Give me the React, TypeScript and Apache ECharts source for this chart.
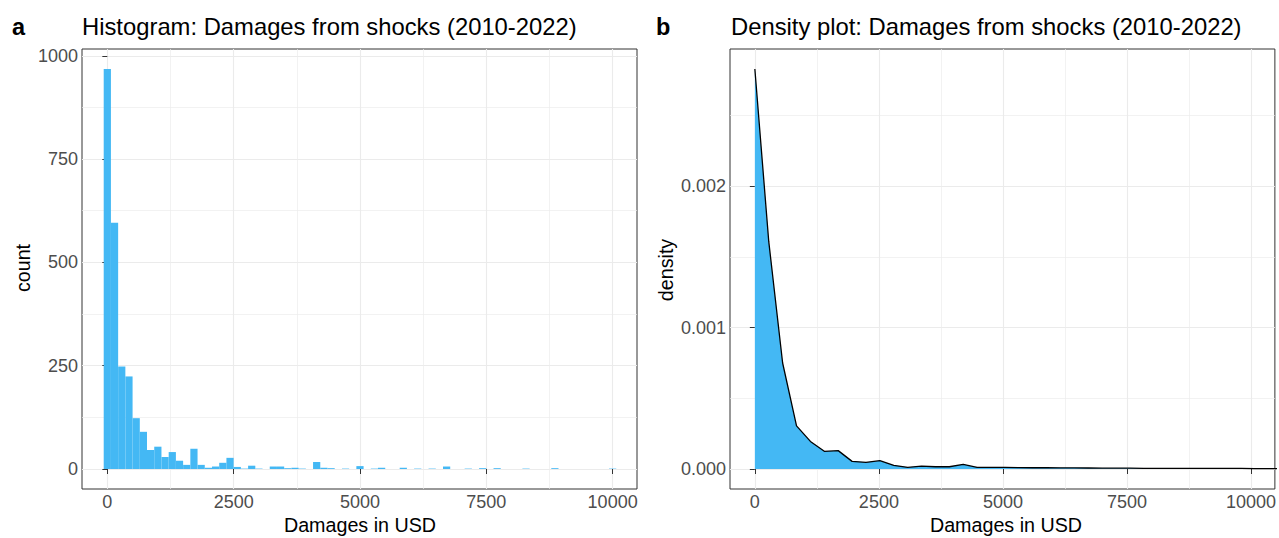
import React, { useEffect, useRef } from "react";
import * as echarts from "echarts";

// Histogram: 71 bins of equal width, the first centred on 0 and the last on 10000
const BIN_WIDTH = 10000 / 70;
const histCounts = [
  968, 596, 248, 224, 123, 90, 46, 54, 29, 41,
  20, 10, 49, 10, 3, 6, 15, 27, 5, 1,
  8, 1, 0, 6, 6, 2, 3, 1, 0, 17,
  3, 2, 0, 1, 0, 7, 0, 1, 3, 0,
  0, 3, 0, 1, 0, 1, 0, 6, 0, 0,
  1, 0, 2, 0, 2, 0, 0, 0, 1, 0,
  0, 0, 2, 0, 0, 0, 0, 0, 0, 0,
  1,
];

// Kernel density estimate, evaluated every 280 USD starting at 0
const DENSITY_STEP = 280;
const densityValues = [
  0.00283, 0.00161, 0.00075, 0.000305, 0.000195, 0.000125, 0.00013, 0.000054,
  0.000047, 0.000059, 0.000026, 0.000012, 0.000021, 0.000016, 0.000016, 0.000032,
  0.000012, 0.000011, 0.000011, 0.00001, 0.000009, 0.000009, 0.000008, 0.000008,
  0.000007, 0.000006, 0.000006, 0.000006, 0.000005, 0.000005, 0.000005, 0.000005,
  0.000004, 0.000004, 0.000004, 0.000004, 0.000003, 0.000003, 0.000003,
];

const xMajorTicks = [0, 2500, 5000, 7500, 10000];
const xMinorTicks = [1250, 3750, 6250, 8750];
const countTicks = [0, 250, 500, 750, 1000];
const countMinorTicks = [125, 375, 625, 875];
const densityTicks = [0, 0.001, 0.002];
const densityMinorTicks = [0.0005, 0.0015, 0.0025];

const FILL = "#44B8F4";
const FONT = "Liberation Sans, Arial, sans-serif";
const X_MIN = -501;
const X_MAX = 10482;

function majorAxis(
  kind: "x" | "y",
  grid: number,
  min: number,
  max: number,
  ticks: number[],
  fmt: (v: number) => string
) {
  return {
    type: "value",
    gridIndex: grid,
    position: kind === "x" ? "bottom" : "left",
    min,
    max,
    axisLine: { show: false },
    axisTick: {
      show: true,
      length: 5,
      customValues: ticks,
      lineStyle: { color: "#333333", width: 1 },
    },
    axisLabel: {
      customValues: ticks,
      formatter: fmt,
      textStyle: { fontSize: 18 },
      color: "#4D4D4D",
      fontFamily: FONT,
      fontSize: 18,
      margin: 4,
    },
    splitLine: { show: true, lineStyle: { color: "#EBEBEB", width: 1.1 } },
  };
}

function minorAxis(kind: "x" | "y", grid: number, min: number, max: number, ticks: number[]) {
  return {
    type: "value",
    gridIndex: grid,
    position: kind === "x" ? "bottom" : "left",
    min,
    max,
    axisLine: { show: false },
    axisTick: { show: false, customValues: ticks },
    axisLabel: { show: false, customValues: ticks },
    splitLine: { show: true, lineStyle: { color: "#EDEDED", width: 0.7 } },
  };
}

export default function App() {
  const ref = useRef<HTMLDivElement>(null);

  useEffect(() => {
    if (!ref.current) return;
    const chart = echarts.init(ref.current, null, { renderer: "svg" });

    const histData = histCounts.map((c, i) => [
      i * BIN_WIDTH - BIN_WIDTH / 2,
      i * BIN_WIDTH + BIN_WIDTH / 2,
      c,
    ]);
    const densityData = densityValues.map((d, i) => [i * DENSITY_STEP, d]);

    const intFmt = (v: number) => String(Math.round(v));
    const densFmt = (v: number) => v.toFixed(3);

    const option = {
      animation: false,
      backgroundColor: "#FFFFFF",
      textStyle: { fontFamily: FONT },
      grid: [
        { left: 82, top: 49, width: 555, height: 440, show: true, borderColor: "#333333", borderWidth: 1, backgroundColor: "transparent" },
        { left: 730, top: 49, width: 552, height: 440, show: true, borderColor: "#333333", borderWidth: 1, backgroundColor: "transparent" },
      ],
      xAxis: [
        minorAxis("x", 0, X_MIN, X_MAX, xMinorTicks),
        majorAxis("x", 0, X_MIN, X_MAX, xMajorTicks, intFmt),
        minorAxis("x", 1, X_MIN, X_MAX, xMinorTicks),
        majorAxis("x", 1, X_MIN, X_MAX, xMajorTicks, intFmt),
      ],
      yAxis: [
        minorAxis("y", 0, -48.4, 1016.4, countMinorTicks),
        majorAxis("y", 0, -48.4, 1016.4, countTicks, intFmt),
        minorAxis("y", 1, -0.0001415, 0.0029715, densityMinorTicks),
        majorAxis("y", 1, -0.0001415, 0.0029715, densityTicks, densFmt),
      ],
      series: [
        {
          type: "custom",
          name: "count",
          xAxisIndex: 1,
          yAxisIndex: 1,
          data: histData,
          encode: { x: [0, 1], y: 2 },
          clip: true,
          renderItem: (_params: any, api: any) => {
            const c = api.value(2);
            if (!c) return null;
            const p0 = api.coord([api.value(0), c]);
            const p1 = api.coord([api.value(1), 0]);
            return {
              type: "rect",
              shape: { x: p0[0], y: p0[1], width: p1[0] - p0[0], height: p1[1] - p0[1] },
              style: { fill: FILL },
            };
          },
        },
        {
          type: "line",
          name: "density",
          xAxisIndex: 3,
          yAxisIndex: 3,
          data: densityData,
          symbol: "none",
          clip: true,
          lineStyle: { color: "#000000", width: 1.3 },
          areaStyle: { color: FILL, opacity: 1 },
        },
      ],
      graphic: [
        { type: "text", left: 12, top: 15, style: { text: "a", font: `bold 23.5px ${FONT}`, fill: "#000" } },
        { type: "text", left: 82, top: 14, style: { text: "Histogram: Damages from shocks (2010-2022)", font: `23.8px ${FONT}`, fill: "#000" } },
        { type: "text", left: 656, top: 15, style: { text: "b", font: `bold 23.5px ${FONT}`, fill: "#000" } },
        { type: "text", left: 731, top: 14, style: { text: "Density plot: Damages from shocks (2010-2022)", font: `23.8px ${FONT}`, fill: "#000" } },
        { type: "text", x: 360, y: 525, style: { text: "Damages in USD", font: `19.7px ${FONT}`, fill: "#000", align: "center", verticalAlign: "middle" } },
        { type: "text", x: 1006, y: 525, style: { text: "Damages in USD", font: `19.7px ${FONT}`, fill: "#000", align: "center", verticalAlign: "middle" } },
        { type: "text", x: 23, y: 268, rotation: Math.PI / 2, style: { text: "count", font: `19.7px ${FONT}`, fill: "#000", align: "center", verticalAlign: "middle" } },
        { type: "text", x: 666, y: 270, rotation: Math.PI / 2, style: { text: "density", font: `19.7px ${FONT}`, fill: "#000", align: "center", verticalAlign: "middle" } },
      ],
    };

    chart.setOption(option as any);
    return () => chart.dispose();
  }, []);

  return (
    <div
      ref={ref}
      style={{ position: "fixed", left: 0, top: 0, width: 1279, height: 538, background: "#fff" }}
    />
  );
}
